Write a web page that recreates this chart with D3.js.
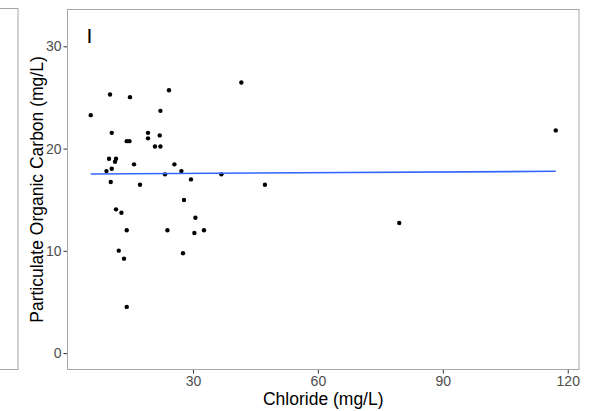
<!DOCTYPE html>
<html>
<head>
<meta charset="utf-8">
<script src="https://cdn.jsdelivr.net/npm/d3@7"></script>
<style>
    body { margin: 0; background: #fff; }
    svg { display: block; font-family: "Liberation Sans", Arial, sans-serif; }
</style>
</head>
<body>
<div id="chart"></div>
<script>

// Data Model
var chloride = [5.45, 10.08, 14.88, 24.24, 22.18, 10.49, 19.2, 19.2, 22.01, 14.09,
    14.74, 20.88, 22.18, 9.84, 11.52, 11.28, 15.84, 25.54, 10.49, 9.22,
    23.28, 10.25, 17.28, 41.62, 27.22, 29.52, 36.82, 47.28, 27.84, 11.52,
    12.82, 14.09, 23.86, 12.17, 13.44, 14.09, 30.58, 30.34, 32.64, 27.6,
    79.54, 117.12];
var poc = [23.27, 25.29, 25.03, 25.71, 23.69, 21.54, 21.54, 21.0, 21.29, 20.73,
    20.73, 20.21, 20.21, 19.0, 19.0, 18.71, 18.46, 18.46, 18.03, 17.8,
    17.48, 16.73, 16.46, 26.46, 17.8, 16.99, 17.48, 16.46, 14.97, 14.06,
    13.73, 12.01, 12.01, 10.02, 9.24, 4.52, 13.24, 11.75, 12.01, 9.77,
    12.72, 21.78];

var xTicks = [30, 60, 90, 120];
var yTicks = [0, 10, 20, 30];
var yLimits = [0, 32];

var panelLabel = "I";
var xTitle = "Chloride (mg/L)";
var yTitle = "Particulate Organic Carbon (mg/L)";

// Dimensions
var width = 592;
var height = 411;
var panel = { left: 67.5, right: 579, top: 9.5, bottom: 369.5 };

function expand(ext) {
    var pad = (ext[1] - ext[0]) * 0.05;
    return [ext[0] - pad, ext[1] + pad];
}

//Axis
var x = d3.scaleLinear()
    .domain(expand(d3.extent(chloride)))
    .range([panel.left, panel.right]);

var y = d3.scaleLinear()
    .domain(expand(yLimits))
    .range([panel.bottom, panel.top]);

var svg = d3.select("#chart").append("svg")
    .attr("width", width)
    .attr("height", height);

svg.append("rect")
    .attr("width", width)
    .attr("height", height)
    .attr("fill", "white");

// edge of the neighbouring panel
svg.append("rect")
    .attr("x", -10)
    .attr("y", 8.5)
    .attr("width", 28)
    .attr("height", panel.bottom - 8.5)
    .attr("fill", "none")
    .attr("stroke", "#a6a6a6")
    .attr("stroke-width", 1);

// axes
var xAxis = svg.append("g")
    .attr("class", "x-axis")
    .attr("transform", "translate(0," + panel.bottom + ")")
    .call(d3.axisBottom(x).tickValues(xTicks).tickSize(4).tickPadding(3));

var yAxis = svg.append("g")
    .attr("class", "y-axis")
    .attr("transform", "translate(" + panel.left + ",0)")
    .call(d3.axisLeft(y).tickValues(yTicks).tickSize(4).tickPadding(2));

svg.selectAll(".x-axis .domain, .y-axis .domain").remove();
svg.selectAll(".tick line")
    .attr("stroke", "#333333");
svg.selectAll(".tick text")
    .attr("fill", "#4d4d4d")
    .style("font-size", "14px")
    .style("font-family", "Liberation Sans, Arial, sans-serif");

// panel border
svg.append("rect")
    .attr("x", panel.left)
    .attr("y", panel.top)
    .attr("width", panel.right - panel.left)
    .attr("height", panel.bottom - panel.top)
    .attr("fill", "none")
    .attr("stroke", "#a6a6a6")
    .attr("stroke-width", 1);

// points
svg.append("g")
    .attr("class", "points")
    .selectAll("circle")
    .data(chloride)
    .enter()
    .append("circle")
    .attr("cx", function(d) { return x(d); })
    .attr("cy", function(d, i) { return y(poc[i]); })
    .attr("r", 2.2)
    .attr("fill", "black");

// linear fit (lm) over the data range
var mx = d3.mean(chloride);
var my = d3.mean(poc);
var sxy = d3.sum(chloride, function(d, i) { return (d - mx) * (poc[i] - my); });
var sxx = d3.sum(chloride, function(d) { return (d - mx) * (d - mx); });
var slope = sxy / sxx;
var intercept = my - slope * mx;
var fitX = d3.extent(chloride);

svg.append("path")
    .datum(fitX)
    .attr("fill", "none")
    .attr("stroke", "#3366ff")
    .attr("stroke-width", 1.6)
    .attr("d", d3.line()
        .x(function(d) { return x(d); })
        .y(function(d) { return y(intercept + slope * d); }));

// panel label
svg.append("text")
    .attr("x", panel.left + 19)
    .attr("y", 43)
    .style("font-size", "21px")
    .attr("fill", "black")
    .text(panelLabel);

// titles
svg.append("text")
    .attr("x", (panel.left + panel.right) / 2)
    .attr("y", 405)
    .attr("text-anchor", "middle")
    .style("font-size", "17.5px")
    .attr("fill", "black")
    .text(xTitle);

svg.append("text")
    .attr("transform", "translate(43," + ((panel.top + panel.bottom) / 2) + ") rotate(-90)")
    .attr("text-anchor", "middle")
    .style("font-size", "17.5px")
    .attr("fill", "black")
    .text(yTitle);

</script>
</body>
</html>
